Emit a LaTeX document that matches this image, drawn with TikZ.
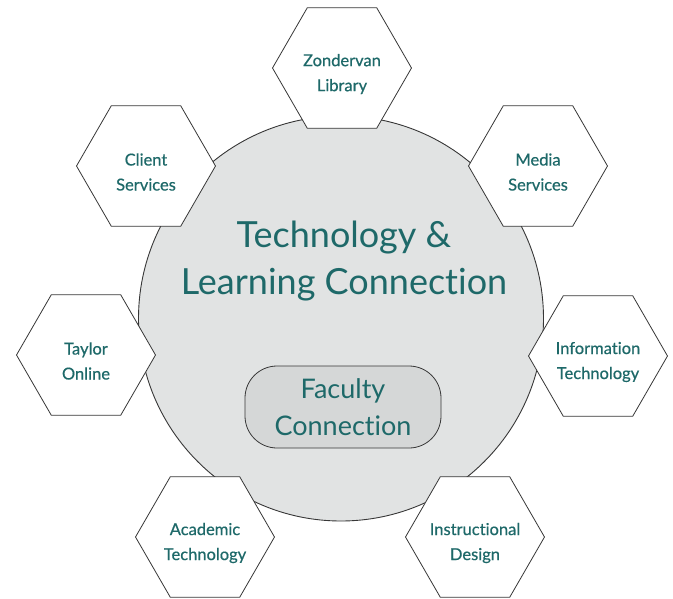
\documentclass[tikz,border=0pt]{standalone}
\usepackage{fontspec}
\setmainfont{Lato}[Ligatures=NoCommon]
\newfontfamily\unitfont{Lato}[FakeBold=0.5,Ligatures=NoCommon]
\usetikzlibrary{shapes.geometric}
\definecolor{tealtext}{RGB}{30,105,105}
\definecolor{hubfill}{RGB}{225,227,227}
\definecolor{corefill}{RGB}{213,215,215}
\definecolor{edge}{RGB}{55,55,55}
\tikzset{
  hub/.style={circle, draw=edge, line width=0.9pt, fill=hubfill, minimum size=405pt, inner sep=0pt},
  hexbox/.style={regular polygon, regular polygon sides=6, minimum size=139pt, inner sep=0pt,
    draw=edge, line width=0.8pt, fill=white},
  unitlabel/.style={align=center, text=tealtext, yshift=-6pt,
    font=\unitfont\fontsize{16.5}{25}\selectfont},
  corebox/.style={rectangle, rounded corners=32pt, draw=edge, line width=0.8pt, fill=corefill,
    minimum width=196pt, minimum height=82pt, align=center, text=tealtext,
    font=\fontsize{27}{37}\selectfont},
  titletext/.style={align=center, text=tealtext, font=\fontsize{36}{47}\selectfont}
}
\begin{document}
\begin{tikzpicture}[x=1pt,y=-1pt]
  \useasboundingbox (0,0) rectangle (673,598);
  % central circle
  \node[hub] (hub) at (341,318.5) {};
  \node[titletext] (title) at (344,261) {Technology \&\\Learning Connection};
  \node[corebox] (core) at (343,407) {Faculty\\Connection};
  % surrounding units
  \node[hexbox] (zon) at (342,68) {};
  \node[hexbox] (client) at (146,166) {};
  \node[hexbox] (media) at (538,166) {};
  \node[hexbox] (taylor) at (86,355) {};
  \node[hexbox] (info) at (598,356) {};
  \node[hexbox] (acad) at (205,537) {};
  \node[hexbox] (instr) at (475,537) {};
  \node[unitlabel] (zonlbl) at (zon.center) {Zondervan\\Library};
  \node[unitlabel] (clientlbl) at (client.center) {Client\\Services};
  \node[unitlabel] (medialbl) at (media.center) {Media\\Services};
  \node[unitlabel] (taylorlbl) at (taylor.center) {Taylor\\Online};
  \node[unitlabel] (infolbl) at (info.center) {Information\\Technology};
  \node[unitlabel] (acadlbl) at (acad.center) {Academic\\Technology};
  \node[unitlabel] (instrlbl) at (instr.center) {Instructional\\Design};
\end{tikzpicture}
\end{document}
